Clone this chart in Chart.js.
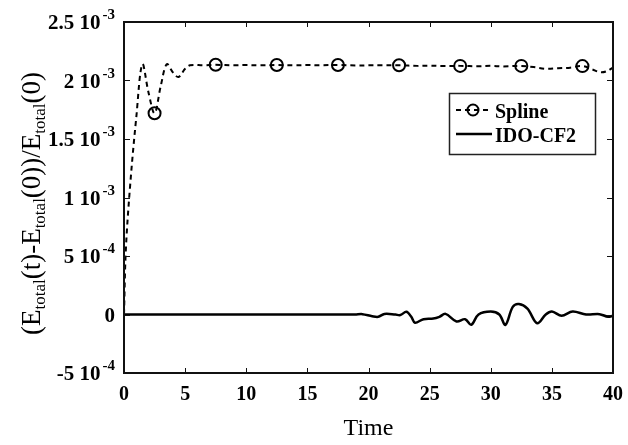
<!DOCTYPE html>
<html lang="en">
 <head>
  <meta charset="utf-8"/>
  <title>Energy error</title>
  <script src="https://cdn.jsdelivr.net/npm/chart.js"></script>
  <style>
   html, body { margin: 0; padding: 0; background: #fff; }
   #wrap { width: 628px; height: 445px; }
  </style>
 </head>
 <body>
  <div id="wrap"><canvas id="grafik"></canvas></div>
  <script>
   // Spline curve (time, relative energy error)
   const splineT = [0, 0.15, 0.5, 1.0, 1.5, 2.0, 2.5, 3.0, 3.5, 4.0, 4.45, 5.0, 5.4, 6.5, 7.5, 9, 10, 11, 12.5, 14, 15, 16, 17.5, 19, 20, 21, 22.5, 24, 25, 26, 27.5, 29, 30, 31, 32.5, 33.5, 34.5, 35.5, 36.5, 37.5, 38.3, 39, 39.5, 40];
   const splineE = [0, 0.55e-3, 1.1e-3, 1.68e-3, 2.14e-3, 1.9e-3, 1.72e-3, 1.95e-3, 2.14e-3, 2.07e-3, 2.03e-3, 2.1e-3, 2.13e-3, 2.13e-3, 2.134e-3, 2.13e-3, 2.132e-3, 2.13e-3, 2.132e-3, 2.13e-3, 2.132e-3, 2.13e-3, 2.133e-3, 2.128e-3, 2.13e-3, 2.13e-3, 2.13e-3, 2.125e-3, 2.127e-3, 2.124e-3, 2.125e-3, 2.122e-3, 2.125e-3, 2.12e-3, 2.125e-3, 2.115e-3, 2.1e-3, 2.105e-3, 2.11e-3, 2.123e-3, 2.095e-3, 2.07e-3, 2.08e-3, 2.11e-3];
   const markerT = [2.5, 7.5, 12.5, 17.5, 22.5, 27.5, 32.5, 37.5];

   // IDO-CF2 curve
   const idoT = [0, 5, 10, 15, 18.9, 19.5, 20.3, 20.8, 21.3, 22.2, 22.6, 23.1, 23.5, 23.8, 24.5, 25.3, 25.8, 26.3, 27.2, 27.9, 28.4, 29.0, 30.0, 30.7, 31.2, 31.8, 32.3, 33.0, 33.8, 34.5, 35.0, 35.8, 36.7, 37.8, 38.9, 39.6, 40];
   const idoE = [0, 0, 0, 0, 0, 0.3e-5, -1.5e-5, -2e-5, 0.5e-5, 0, -0.5e-5, 2.3e-5, -2e-5, -7e-5, -4e-5, -3.5e-5, -2e-5, 0.5e-5, -6e-5, -4e-5, -8.8e-5, 0, 2.5e-5, 0, -8.8e-5, 6.5e-5, 9e-5, 5e-5, -7.5e-5, 0, 2.5e-5, -1e-5, 2.5e-5, 0, 0.3e-5, -2e-5, -1e-5];

   // y tick labels: mantissa and power of ten
   const yTickVals = [2.5e-3, 2e-3, 1.5e-3, 1e-3, 5e-4, 0, -5e-4];
   const yTickBase = ['2.5 10', '2 10', '1.5 10', '1 10', '5 10', '0', '-5 10'];
   const yTickExp = ['-3', '-3', '-3', '-3', '-4', '', '-4'];
   const xTickVals = [5, 10, 15, 20, 25, 30, 35];

   const seriesNames = ['Spline', 'IDO-CF2'];
   const serif = "'Liberation Serif', 'Times New Roman', serif";

   const toPts = (ts, es) => ts.map((t, i) => ({ x: t, y: es[i] }));

   const framePlugin = {
     id: 'frame',
     afterDraw(chart) {
       const ctx = chart.ctx;
       const a = chart.chartArea;
       const xs = chart.scales.x, ys = chart.scales.y;
       ctx.save();
       ctx.strokeStyle = '#111';
       // box
       ctx.lineWidth = 2;
       ctx.strokeRect(a.left, a.top, a.right - a.left, a.bottom - a.top);
       // inner ticks
       ctx.lineWidth = 1;
       ctx.beginPath();
       xTickVals.forEach(v => {
         const px = Math.round(xs.getPixelForValue(v)) + 0.5;
         ctx.moveTo(px, a.bottom); ctx.lineTo(px, a.bottom - 5);
         ctx.moveTo(px, a.top); ctx.lineTo(px, a.top + 5);
       });
       yTickVals.forEach(v => {
         const py = Math.round(ys.getPixelForValue(v)) + 0.5;
         ctx.moveTo(a.left, py); ctx.lineTo(a.left + 6, py);
         ctx.moveTo(a.right, py); ctx.lineTo(a.right - 6, py);
       });
       ctx.stroke();

       // y tick labels with exponents
       ctx.fillStyle = '#000';
       ctx.textBaseline = 'alphabetic';
       ctx.textAlign = 'right';
       const right = a.left - 9;
       yTickVals.forEach((v, i) => {
         const py = ys.getPixelForValue(v);
         let x = right;
         if (yTickExp[i]) {
           ctx.font = 'bold 15px ' + serif;
           ctx.fillText(yTickExp[i], x, py - 3);
           x -= ctx.measureText(yTickExp[i]).width + 2;
         }
         ctx.font = 'bold 21px ' + serif;
         ctx.fillText(yTickBase[i], x, py + 7);
       });

       // y axis title with subscripts
       const parts = [['(E', 0], ['total', 1], ['(t)-E', 0], ['total', 1], ['(0))/E', 0], ['total', 1], ['(0)', 0]];
       const big = '27px ' + serif, small = '17px ' + serif;
       let w = 0;
       parts.forEach(p => { ctx.font = p[1] ? small : big; w += ctx.measureText(p[0]).width; });
       ctx.translate(40, (a.top + a.bottom) / 2 + 6);
       ctx.rotate(-Math.PI / 2);
       ctx.textAlign = 'left';
       let cx = -w / 2;
       parts.forEach(p => {
         ctx.font = p[1] ? small : big;
         ctx.fillText(p[0], cx, p[1] ? 5 : 0);
         cx += ctx.measureText(p[0]).width;
       });
       ctx.setTransform(1, 0, 0, 1, 0, 0);

       // legend
       ctx.lineWidth = 1.5;
       ctx.strokeStyle = '#222';
       ctx.strokeRect(449.5, 93.5, 146, 61);
       ctx.strokeStyle = '#000';
       ctx.lineWidth = 2;
       ctx.setLineDash([5, 4]);
       ctx.beginPath(); ctx.moveTo(456, 110); ctx.lineTo(492, 110); ctx.stroke();
       ctx.setLineDash([]);
       ctx.beginPath(); ctx.arc(473, 110, 5.5, 0, Math.PI * 2); ctx.stroke();
       ctx.lineWidth = 2.5;
       ctx.beginPath(); ctx.moveTo(456, 134); ctx.lineTo(492, 134); ctx.stroke();
       ctx.font = 'bold 20px ' + serif;
       ctx.textAlign = 'left';
       ctx.fillText(seriesNames[0], 495, 118);
       ctx.fillText(seriesNames[1], 495, 142);
       ctx.restore();
     }
   };

   new Chart(document.getElementById('grafik'), {
     type: 'line',
     data: {
       datasets: [
         {
           label: seriesNames[0],
           data: toPts(splineT, splineE),
           borderColor: '#000',
           borderWidth: 2,
           borderDash: [5, 4],
           tension: 0.35,
           pointRadius: c => (c.raw && markerT.includes(c.raw.x)) ? 6 : 0,
           pointStyle: 'circle',
           pointBorderColor: '#000',
           pointBorderWidth: 2,
           pointBackgroundColor: 'rgba(0,0,0,0)'
         },
         {
           label: seriesNames[1],
           data: toPts(idoT, idoE),
           borderColor: '#000',
           borderWidth: 2.5,
           tension: 0.35,
           pointRadius: 0
         }
       ]
     },
     options: {
       responsive: true,
       maintainAspectRatio: false,
       animation: false,
       layout: { padding: { top: 22, right: 15, bottom: 0, left: 0 } },
       plugins: { legend: { display: false }, tooltip: { enabled: false } },
       scales: {
         x: {
           type: 'linear',
           min: 0, max: 40,
           grid: { display: false, drawTicks: false },
           border: { display: false },
           ticks: {
             stepSize: 5,
             padding: 10,
             color: '#000',
             font: { family: serif, size: 20, weight: 'bold' }
           },
           title: {
             display: true,
             text: 'Time',
             color: '#000',
             font: { family: serif, size: 24 },
             padding: { top: 0, bottom: 2 }
           },
           afterFit: s => { s.height = 72; s.paddingLeft = 0; s.paddingRight = 0; }
         },
         y: {
           min: -5e-4, max: 2.5e-3,
           grid: { display: false, drawTicks: false },
           border: { display: false },
           ticks: { display: false, stepSize: 5e-4 },
           afterFit: s => { s.width = 124; s.paddingTop = 0; s.paddingBottom = 0; }
         }
       }
     },
     plugins: [framePlugin]
   });
  </script>
 </body>
</html>
